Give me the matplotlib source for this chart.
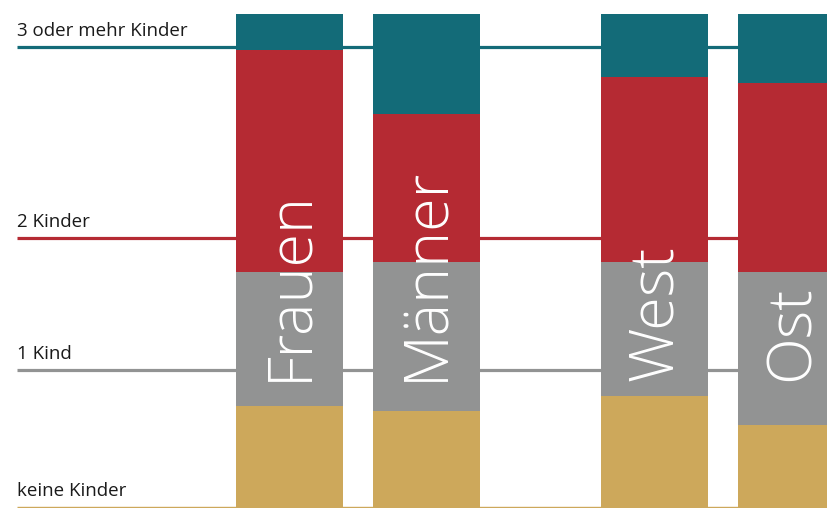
import matplotlib.pyplot as plt
import numpy as np

# Anteile in Prozent (von unten nach oben)
gruppen = ["Frauen", "Männer", "West", "Ost"]
kategorien = ["keine Kinder", "1 Kind", "2 Kinder", "3 oder mehr Kinder"]
keine = [20.6, 19.6, 22.7, 16.8]
ein_kind = [27.1, 30.2, 27.1, 31.0]
zwei = [45.1, 30.0, 37.4, 38.3]
drei_plus = [7.2, 20.2, 12.8, 13.9]

# Hoehe der Referenzlinien je Kategorie
linien = [0.2, 27.9, 54.7, 93.3]

farben = ["#cda85b", "#929393", "#b52a33", "#136b78"]
linien_breite = [1.0, 2.3, 2.3, 2.3]

plt.rcParams['font.family'] = ['Open Sans', 'DejaVu Sans']

fig = plt.figure(figsize=(8.28, 5.08), dpi=100)
ax = fig.add_axes([0, 0, 1, 1])

# zwei Gruppen mit Abstand
x = np.array([0, 1, 2.664, 3.664])
breite = 0.781

# Linien hinter den Balken
for lvl, col, lw, lab in zip(linien, farben, linien_breite, kategorien):
    ax.plot([-1.99, 4.5], [lvl, lvl], color=col, lw=lw, zorder=1, solid_capstyle='butt')
    ax.text(-1.99, lvl + 1.4, lab, fontsize=13.5, color="#1a1a1a", ha='left', va='bottom', zorder=3)

unten = np.zeros(len(gruppen))
for werte, col in zip([keine, ein_kind, zwei, drei_plus], farben):
    ax.bar(x, werte, width=breite, bottom=unten, color=col, zorder=2, linewidth=0)
    unten += np.array(werte)

# Gruppennamen in den Balken
for xi, name in zip(x, gruppen):
    ax.text(xi + 0.01, 25.7, name, rotation=90, ha='center', va='bottom', color='white',
            fontsize=44, fontweight='light', zorder=4)

ax.set_xlim(-2.113, 3.931)
ax.set_ylim(0, 102.83)
ax.axis('off')

fig.savefig("out.png", dpi=100)
